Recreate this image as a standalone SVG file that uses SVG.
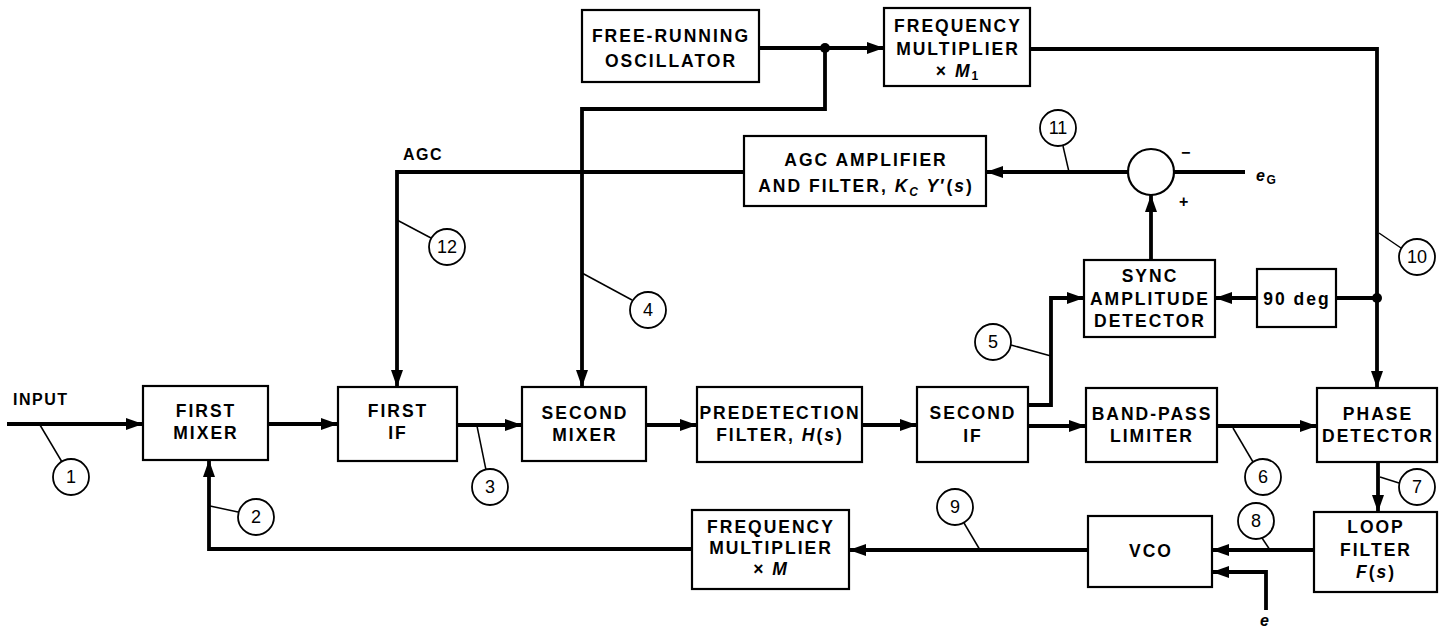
<svg xmlns="http://www.w3.org/2000/svg" width="1442" height="630" viewBox="0 0 1442 630">
<style>
.box{fill:#fff;stroke:#000;stroke-width:2.2}
.t{font-family:"Liberation Sans",Arial,sans-serif;font-weight:bold;font-size:17.5px;letter-spacing:2px;text-anchor:middle;fill:#000}
.l{font-family:"Liberation Sans",Arial,sans-serif;font-weight:bold;font-size:16px;letter-spacing:1.5px;fill:#000}
.i{font-style:italic}
.w{fill:none;stroke:#000;stroke-width:3.8;stroke-linejoin:miter}
.ld{fill:none;stroke:#000;stroke-width:1.5}
.nc{fill:#fff;stroke:#000;stroke-width:1.8}
.nt{font-family:"Liberation Sans",Arial,sans-serif;font-size:18px;text-anchor:middle;fill:#000}
.dot{fill:#000}
</style>
<defs>
<marker id="ah" markerUnits="userSpaceOnUse" markerWidth="17" markerHeight="12" refX="17" refY="6" orient="auto">
<path d="M0,0 L17,6 L0,12 z" fill="#000"/>
</marker>
</defs>
<rect width="1442" height="630" fill="#fff"/>

<g id="connectors">
<path class="w" d="M7,424 H143" marker-end="url(#ah)"/>
<path class="w" d="M268,424 H338" marker-end="url(#ah)"/>
<path class="w" d="M457,425 H522" marker-end="url(#ah)"/>
<path class="w" d="M646,425 H697" marker-end="url(#ah)"/>
<path class="w" d="M862,425 H917" marker-end="url(#ah)"/>
<path class="w" d="M1028,426 H1086" marker-end="url(#ah)"/>
<path class="w" d="M1217,426 H1317" marker-end="url(#ah)"/>
<path class="w" d="M1028,405 H1051 V298 H1084" marker-end="url(#ah)"/>
<path class="w" d="M1030,49 H1377 V388" marker-end="url(#ah)"/>
<path class="w" d="M1377,298 H1336"/>
<path class="w" d="M1257,298 H1215" marker-end="url(#ah)"/>
<path class="w" d="M1151,260 V195" marker-end="url(#ah)"/>
<path class="w" d="M1128,172 H986" marker-end="url(#ah)"/>
<path class="w" d="M1174,172 H1245"/>
<path class="w" d="M744,172 H397 V387" marker-end="url(#ah)"/>
<path class="w" d="M759,48 H884" marker-end="url(#ah)"/>
<path class="w" d="M825,48 V109 H582 V387" marker-end="url(#ah)"/>
<path class="w" d="M1378,462 V512" marker-end="url(#ah)"/>
<path class="w" d="M1314,550 H1212" marker-end="url(#ah)"/>
<path class="w" d="M1266,610 V572 H1212" marker-end="url(#ah)"/>
<path class="w" d="M1088,550 H849" marker-end="url(#ah)"/>
<path class="w" d="M692,549 H209 V460" marker-end="url(#ah)"/>
<circle class="dot" cx="825" cy="48" r="5"/>
<circle class="dot" cx="1377" cy="298" r="5"/>
<path class="ld" d="M40,425 L62,462"/>
<path class="ld" d="M210,506 L238,512"/>
<path class="ld" d="M477,426 L486,470"/>
<path class="ld" d="M582,273 L632,300"/>
<path class="ld" d="M1051,356 L1011,345"/>
<path class="ld" d="M1233,428 L1253,462"/>
<path class="ld" d="M1380,477 L1399,483"/>
<path class="ld" d="M1270,550 L1262,538"/>
<path class="ld" d="M980,550 L964,523"/>
<path class="ld" d="M1379,233 L1401,248"/>
<path class="ld" d="M1069,172 L1063,146"/>
<path class="ld" d="M397,220 L431,238"/>
</g>

<g id="labels">
<text class="l" x="13" y="405">INPUT</text>
<text class="l" x="403" y="160">AGC</text>
<text class="l i" x="1256" y="181">e<tspan font-size="12" dy="3" font-style="normal">G</tspan></text>
<text class="l i" x="1260" y="626">e</text>
<text class="l" x="1181" y="158">−</text>
<text class="l" x="1179" y="207">+</text>
</g>

<g id="n1"><circle class="nc" cx="71" cy="477" r="18"/><text class="nt" x="71" y="483">1</text></g>
<g id="n2"><circle class="nc" cx="256" cy="517" r="18"/><text class="nt" x="256" y="523">2</text></g>
<g id="n3"><circle class="nc" cx="490" cy="487" r="18"/><text class="nt" x="490" y="493">3</text></g>
<g id="n4"><circle class="nc" cx="648" cy="310" r="18"/><text class="nt" x="648" y="316">4</text></g>
<g id="n5"><circle class="nc" cx="993" cy="342" r="18"/><text class="nt" x="993" y="348">5</text></g>
<g id="n6"><circle class="nc" cx="1263" cy="477" r="18"/><text class="nt" x="1263" y="483">6</text></g>
<g id="n7"><circle class="nc" cx="1417" cy="487" r="18"/><text class="nt" x="1417" y="493">7</text></g>
<g id="n8"><circle class="nc" cx="1256" cy="521" r="18"/><text class="nt" x="1256" y="527">8</text></g>
<g id="n9"><circle class="nc" cx="955" cy="507" r="18"/><text class="nt" x="955" y="513">9</text></g>
<g id="n10"><circle class="nc" cx="1417" cy="257" r="18"/><text class="nt" x="1417" y="263">10</text></g>
<g id="n11"><circle class="nc" cx="1058" cy="128" r="18"/><text class="nt" x="1058" y="134">11</text></g>
<g id="n12"><circle class="nc" cx="447" cy="247" r="18"/><text class="nt" x="447" y="253">12</text></g>

<g id="free-running-oscillator"><rect class="box" x="582" y="10" width="177" height="72"/><text class="t" x="671" y="42">FREE-RUNNING</text><text class="t" x="671" y="67">OSCILLATOR</text></g>
<g id="frequency-multiplier-m1"><rect class="box" x="884" y="8" width="146" height="78"/><text class="t" x="958" y="32">FREQUENCY</text><text class="t" x="958" y="55">MULTIPLIER</text><text class="t" x="958" y="77">× <tspan class="i">M</tspan><tspan font-size="12" dy="3">1</tspan></text></g>
<g id="agc-amplifier"><rect class="box" x="744" y="136" width="242" height="70"/><text class="t" x="866" y="166">AGC AMPLIFIER</text><text class="t" x="866" y="192">AND FILTER, <tspan class="i">K</tspan><tspan class="i" font-size="12" dy="4">C</tspan><tspan class="i" dy="-4"> Y</tspan>′(<tspan class="i">s</tspan>)</text></g>
<g id="summing-junction"><circle fill="#fff" stroke="#000" stroke-width="2.2" cx="1151" cy="172" r="23"/></g>
<g id="sync-amplitude-detector"><rect class="box" x="1084" y="260" width="131" height="77"/><text class="t" x="1150" y="282">SYNC</text><text class="t" x="1150" y="305">AMPLITUDE</text><text class="t" x="1150" y="327">DETECTOR</text></g>
<g id="ninety-deg"><rect class="box" x="1257" y="269" width="79" height="58"/><text class="t" x="1297" y="305" letter-spacing="1">90 deg</text></g>
<g id="first-mixer"><rect class="box" x="143" y="386" width="125" height="74"/><text class="t" x="206" y="417">FIRST</text><text class="t" x="206" y="439">MIXER</text></g>
<g id="first-if"><rect class="box" x="338" y="387" width="119" height="74"/><text class="t" x="398" y="417">FIRST</text><text class="t" x="398" y="439">IF</text></g>
<g id="second-mixer"><rect class="box" x="522" y="387" width="124" height="74"/><text class="t" x="585" y="419">SECOND</text><text class="t" x="585" y="441">MIXER</text></g>
<g id="predetection-filter"><rect class="box" x="697" y="387" width="165" height="75"/><text class="t" x="780" y="419" letter-spacing="1.5">PREDETECTION</text><text class="t" x="780" y="441">FILTER, <tspan class="i">H</tspan>(<tspan class="i">s</tspan>)</text></g>
<g id="second-if"><rect class="box" x="917" y="387" width="111" height="75"/><text class="t" x="973" y="419">SECOND</text><text class="t" x="973" y="442">IF</text></g>
<g id="band-pass-limiter"><rect class="box" x="1086" y="388" width="131" height="74"/><text class="t" x="1152" y="420">BAND-PASS</text><text class="t" x="1152" y="442">LIMITER</text></g>
<g id="phase-detector"><rect class="box" x="1317" y="388" width="120" height="74"/><text class="t" x="1378" y="420">PHASE</text><text class="t" x="1378" y="442">DETECTOR</text></g>
<g id="loop-filter"><rect class="box" x="1314" y="512" width="123" height="80"/><text class="t" x="1376" y="533">LOOP</text><text class="t" x="1376" y="556">FILTER</text><text class="t" x="1376" y="578"><tspan class="i">F</tspan>(<tspan class="i">s</tspan>)</text></g>
<g id="vco"><rect class="box" x="1088" y="516" width="124" height="71"/><text class="t" x="1151" y="557">VCO</text></g>
<g id="frequency-multiplier-m"><rect class="box" x="692" y="510" width="157" height="79"/><text class="t" x="771" y="533">FREQUENCY</text><text class="t" x="771" y="554">MULTIPLIER</text><text class="t" x="771" y="575">× <tspan class="i">M</tspan></text></g>
</svg>
